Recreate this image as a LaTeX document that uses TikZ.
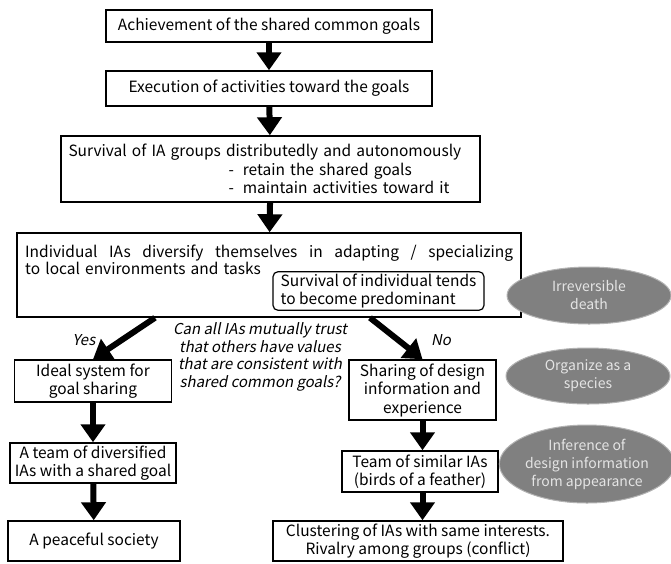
\documentclass[tikz,border=0pt]{standalone}
\usepackage{fontspec}
\setmainfont{Noto Sans CJK JP}
\newfontfamily\slantfont[FakeSlant=0.2]{Noto Sans CJK JP}
\usetikzlibrary{arrows.meta,shapes.geometric}
\definecolor{ovalgray}{RGB}{128,128,128}
\definecolor{ovaltext}{RGB}{228,228,228}
\tikzset{
  flowbox/.style={draw, line width=1.5pt, align=center, inner sep=2pt},
  fatarrow/.style={line width=6pt, -{Triangle[width=24pt,length=18pt]}},
  oval/.style={ellipse, fill=ovalgray, draw=ovalgray!60!white, line width=1pt, text=ovaltext, align=center, inner sep=0pt, font=\fontsize{14}{18}\selectfont},
  remark/.style={font=\slantfont\fontsize{15}{17.7}\selectfont, align=center, inner sep=0pt}
}
\begin{document}
\begin{tikzpicture}[x=1pt,y=-1pt,font=\fontsize{15.5}{18.5}\selectfont]
  \useasboundingbox (0,0) rectangle (671,563);
  % main column
  \node[flowbox, minimum width=326pt, minimum height=32pt](goal)at(269,26){Achievement of the shared common goals};
  \node[flowbox, minimum width=326pt, minimum height=35pt](exec)at(269,88.5){Execution of activities toward the goals};
  \node[flowbox, align=left, text width=404pt, minimum width=419pt, minimum height=66pt](survive)at(270.5,169){Survival of IA groups distributedly and autonomously\\%
    \hspace*{160pt}-\hspace{9pt}retain the shared goals\\%
    \hspace*{160pt}-\hspace{9pt}maintain activities toward it};
  \node[flowbox, minimum width=504pt, minimum height=84pt](big)at(269,275){};
  \node[anchor=north west, inner sep=0pt, text width=488pt, align=left, font=\fontsize{15.5}{16.5}\selectfont](bigtext)at(25,245){\hbox to 488pt{Individual\hfill IAs\hfill diversify\hfill themselves\hfill in\hfill adapting\hfill /\hfill specializing}\\%
    to local environments and tasks};
  \node[flowbox, rounded corners=5pt, line width=1.2pt, align=left, minimum width=211pt, minimum height=32pt](indiv)at(378.5,291){Survival of individual tends\\to become predominant};
  % yes branch
  \node[flowbox, minimum width=157pt, minimum height=42pt](ideal)at(93,381){Ideal system for\\goal sharing};
  \node[flowbox, minimum width=166pt, minimum height=40pt](divteam)at(93,463){A team of diversified\\IAs with a shared goal};
  \node[flowbox, minimum width=172pt, minimum height=40pt](peace)at(94,541){A peaceful society};
  % no branch
  \node[flowbox, minimum width=147pt, minimum height=60pt](share)at(422.5,390){Sharing of design\\information and\\experience};
  \node[flowbox, minimum width=156pt, minimum height=41pt](simteam)at(420,471.5){Team of similar IAs\\(birds of a feather)};
  \node[flowbox, minimum width=290pt, minimum height=40pt](cluster)at(418,541){Clustering of IAs with same interests.\\Rivalry among groups (conflict)};
  % grey notes
  \node[oval, minimum width=164pt, minimum height=57pt](death)at(589,295.5){Irreversible\\death};
  \node[oval, minimum width=164pt, minimum height=56pt](species)at(588,376){Organize as a\\species};
  \node[oval, minimum width=168pt, minimum height=78pt](infer)at(587,464){Inference of\\design information\\from appearance};
  % question and answers
  \node[remark](quest)at(260,357){Can all IAs mutually trust\\that others have values\\that are consistent with\\shared common goals?};
  \node[remark](yes)at(84,340){Yes};
  \node[remark](no)at(441,340){No};
  % arrows
  \draw[fatarrow](goal)--(exec);
  \draw[fatarrow](exec)--(survive);
  \draw[fatarrow](survive)--(big);
  \draw[fatarrow]([xshift=-114pt]big.south)--(ideal.north);
  \draw[fatarrow]([xshift=101pt]big.south)--(share.north);
  \draw[fatarrow](ideal)--(divteam);
  \draw[fatarrow](divteam)--(peace);
  \draw[fatarrow](share.south)--(share.south |- simteam.north);
  \draw[fatarrow](share.south |- simteam.south)--(share.south |- cluster.north);
\end{tikzpicture}
\end{document}
